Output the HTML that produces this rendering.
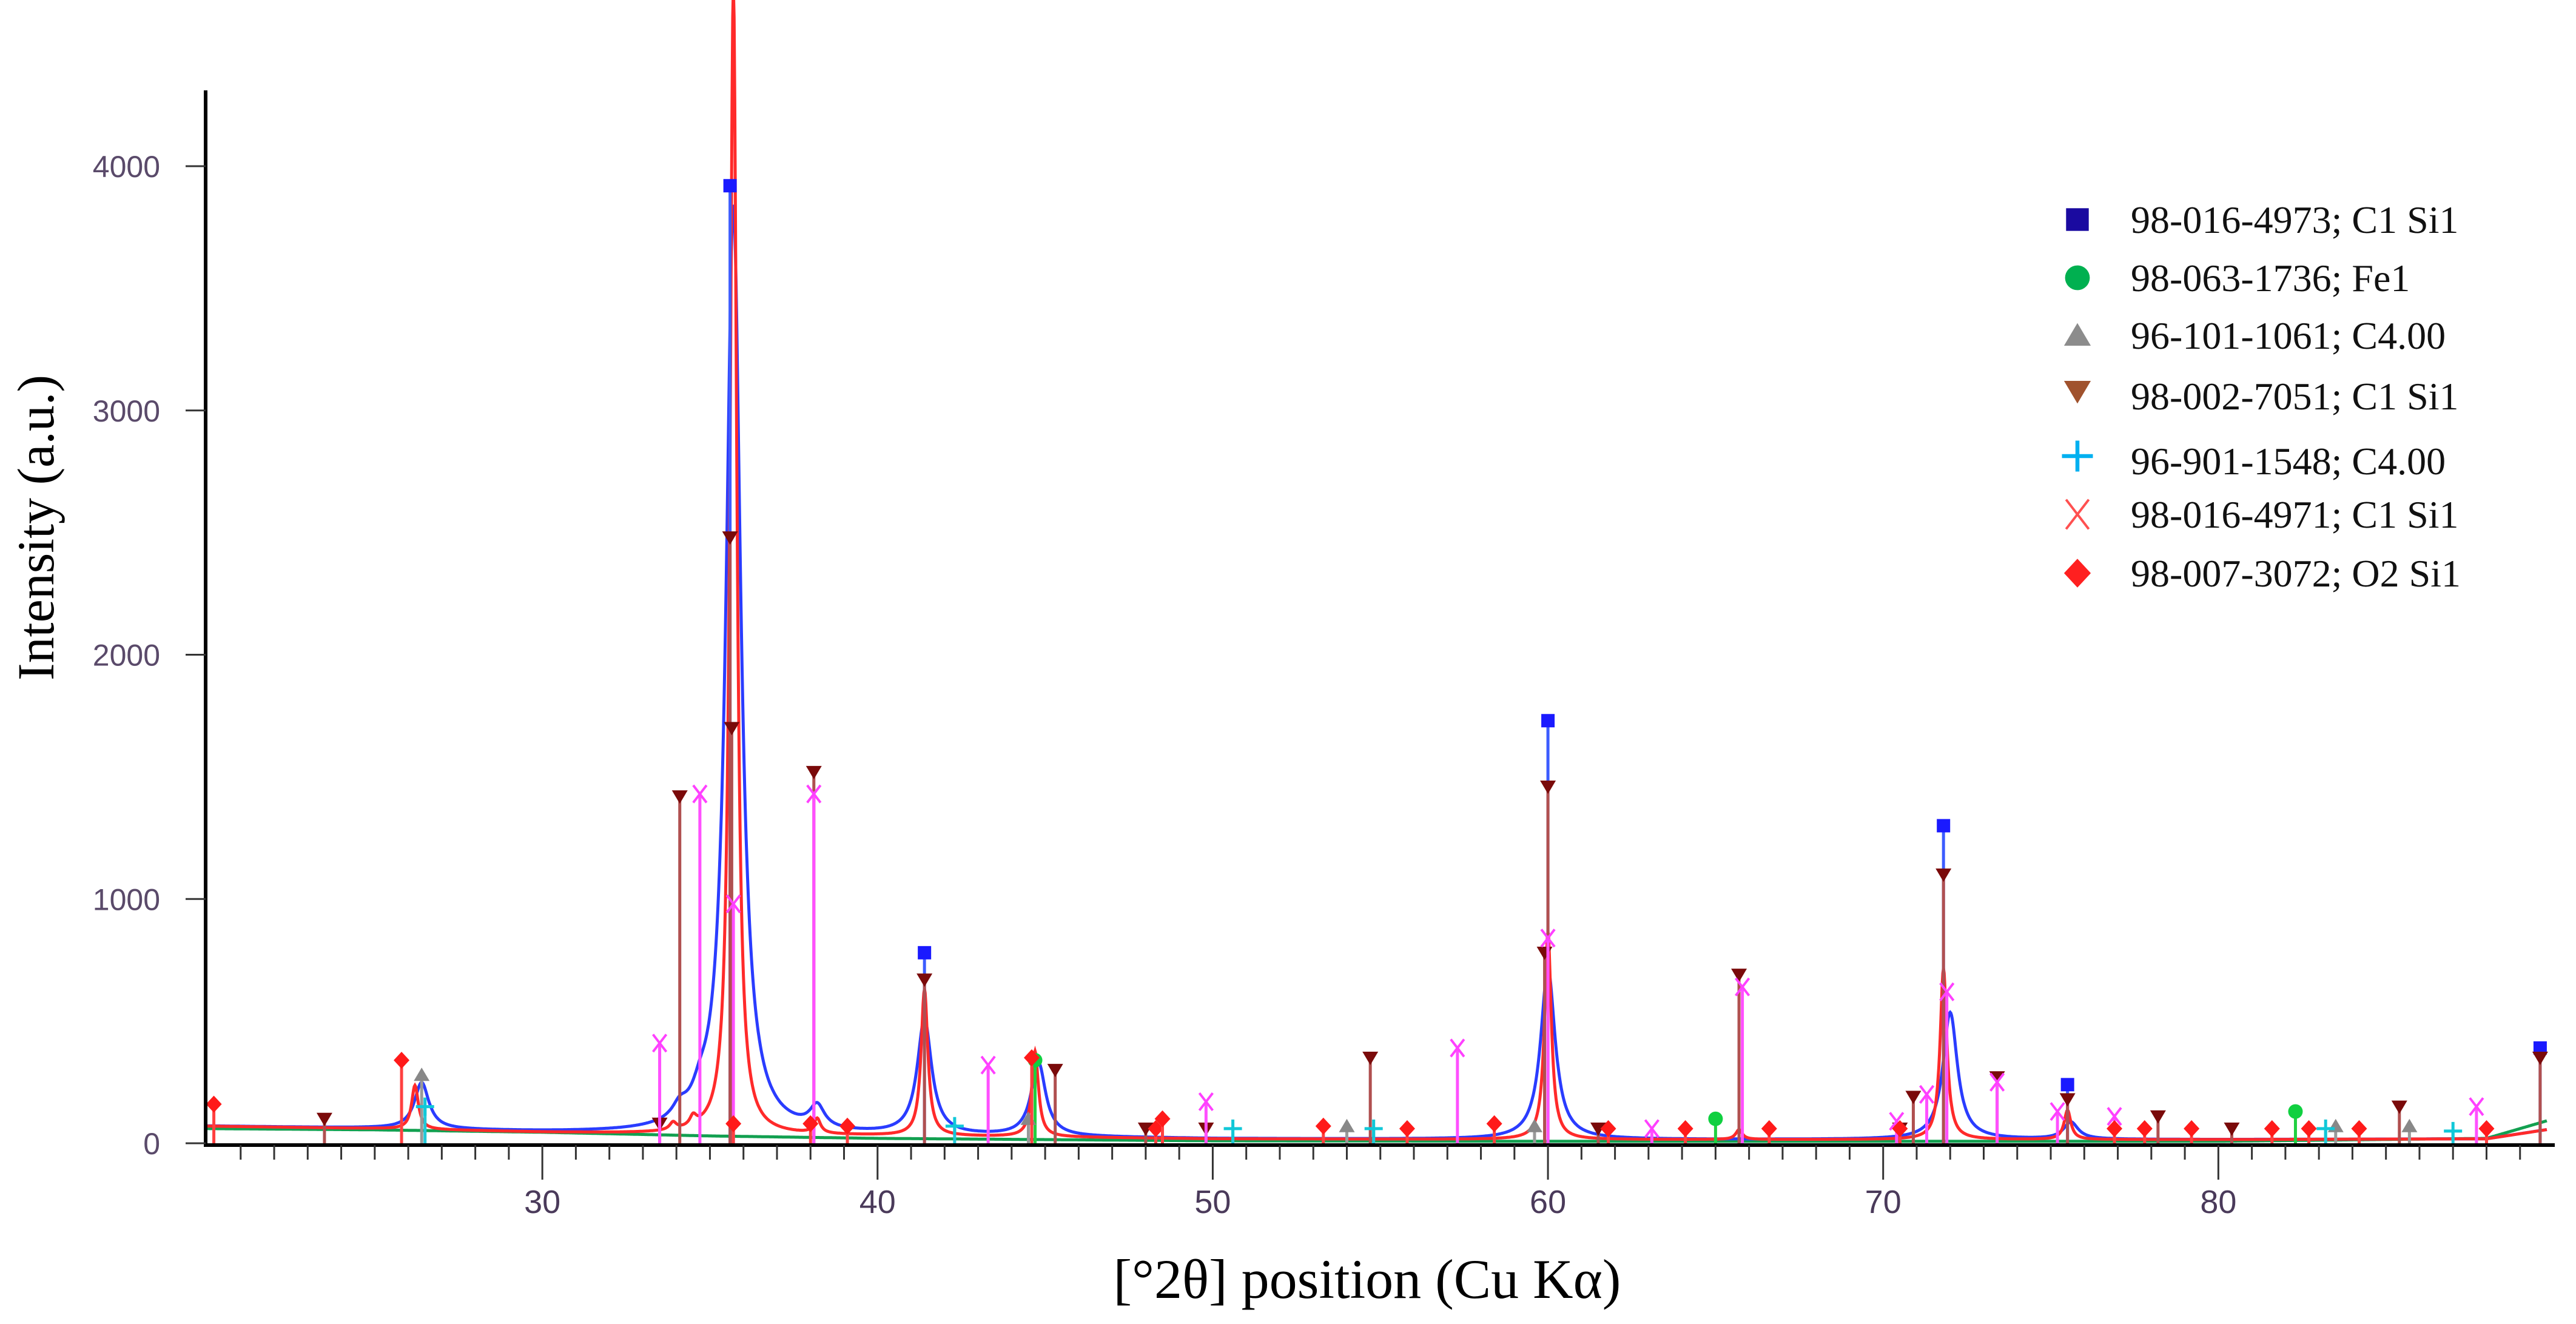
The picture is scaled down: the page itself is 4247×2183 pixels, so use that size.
<!DOCTYPE html>
<html><head><meta charset="utf-8">
<style>
html,body{margin:0;padding:0;background:#fff;}
svg{display:block;}
text{font-family:"Liberation Sans",sans-serif;}
.serif{font-family:"Liberation Serif",serif;}
</style></head>
<body>
<svg id="chart" width="4247" height="2183" viewBox="0 0 4247 2183" xmlns="http://www.w3.org/2000/svg">
<g id="plot"></g>
<line x1="339" y1="149" x2="339" y2="1888" stroke="#000" stroke-width="6"/>
<line x1="336" y1="1888" x2="4212" y2="1888" stroke="#000" stroke-width="6"/>
<g id="ticks"></g>
<text class="serif" transform="translate(88,870) rotate(-90)" text-anchor="middle" font-size="86" fill="#000">Intensity (a.u.)</text>
<text class="serif" x="2254" y="2140" text-anchor="middle" font-size="92" fill="#000">[°2θ] position (Cu Kα)</text>
<g id="legend"></g>
</svg>
<script>
// ---- data ----
const xTicks = [30,40,50,60,70,80];
const yTicks = [0,1000,2000,3000,4000];
const bgX = [20,25,30,35,40,45,50,60,70,80,88,90];
const bgRed = [70,60,45,35,30,25,18,15,15,15,18,60];
const bgGreen = [60,55,45,30,20,15,10,8,8,8,20,100];
const redPeakPos = [26.2,33.9,34.5,35.7,38.2,41.4,44.7,60.0,65.7,71.8,75.5];
const redPeakH = [180,30,40,4700,60,600,350,850,40,700,120];
const bluePeakPos = [26.4,34.1,34.7,35.7,38.2,41.4,44.8,60.0,72.0,75.6];
const bluePeakH = [190,50,60,3800,90,470,300,700,520,70];
const s1Pos=[35.6,41.4,60.0,71.8,75.5,89.6]; const s1H=[3920,780,1730,1300,240,390];
const s2Pos=[44.7,65.0,82.3]; const s2H=[340,100,130];
const s3Pos=[26.4,44.5,54.0,59.6,83.5,85.7]; const s3H=[280,100,70,70,70,70];
const s4Pos=[23.5,33.5,34.1,35.6,35.65,38.1,41.4,45.3,48.0,49.8,54.7,59.9,60.0,61.5,65.7,70.5,70.9,71.8,73.4,75.5,78.2,80.4,85.4,89.6];
const s4H=[100,80,1420,2480,1700,1520,670,300,60,60,350,780,1460,60,690,60,190,1100,270,180,110,60,150,350];
const s5Pos=[26.5,42.3,50.6,54.8,83.2,87.0]; const s5H=[150,70,60,60,60,50];
const s6Pos=[33.5,34.7,35.7,38.1,43.3,49.8,57.3,60.0,63.1,65.8,70.4,71.3,71.9,73.4,75.2,76.9,87.7];
const s6H=[410,1430,980,1430,320,170,390,840,60,640,90,200,620,250,130,110,150];
const s7Pos=[20.2,25.8,35.7,38.0,39.1,44.6,48.3,48.5,53.3,55.8,58.4,61.8,64.1,66.6,70.5,76.9,77.8,79.2,81.6,82.7,84.2,88.0];
const s7H=[160,340,80,80,70,350,60,100,70,60,80,60,60,60,60,60,60,60,60,60,60,60];
const legendLabels=["98-016-4973; C1 Si1","98-063-1736; Fe1","96-101-1061; C4.00","98-002-7051; C1 Si1","96-901-1548; C4.00","98-016-4971; C1 Si1","98-007-3072; O2 Si1"];

// ---- scales ----
const X0=20,X1=90,PX0=341.5,PX1=4210;
function sx(v){return PX0+(v-X0)*(PX1-PX0)/(X1-X0);}
function sy(v){return 1885-v*0.40275;}
const NS="http://www.w3.org/2000/svg";
function mk(tag,attrs,parent){const e=document.createElementNS(NS,tag);for(const k in attrs)e.setAttribute(k,attrs[k]);parent.appendChild(e);return e;}
const plot=document.getElementById('plot'), ticks=document.getElementById('ticks'), legend=document.getElementById('legend');

function interp(xs,ys,x){for(let i=0;i<xs.length-1;i++){if(x<=xs[i+1]){const t=(x-xs[i])/(xs[i+1]-xs[i]);return ys[i]+t*(ys[i+1]-ys[i]);}}return ys[ys.length-1];}
function profile(bg,pos,h,w){let d="";for(let x=X0;x<=89.8;x+=0.02){let v=interp(bgX,bg,x);for(let i=0;i<pos.length;i++){const u=(x-pos[i])/w;v+=h[i]/(1+u*u);}d+=(d?"L":"M")+sx(x).toFixed(1)+","+sy(v).toFixed(1);}return d;}

// continuous patterns
let p=mk('path',{d:profile(bgGreen,[],[],0.1),fill:'none',stroke:'#12a050','stroke-width':5},plot);


p=mk('path',{d:profile(bgRed,bluePeakPos,bluePeakH,0.26),fill:'none',stroke:'#2a3cff','stroke-width':5},plot);


p=mk('path',{d:profile(bgRed,redPeakPos,redPeakH,0.12),fill:'none',stroke:'#ff2a2a','stroke-width':5},plot);



// markers
function marker(type,cx,cy,col,parent,s){
  s=s||1;
  let e;
  if(type==='sq') e=mk('rect',{x:cx-11*s,y:cy-11*s,width:22*s,height:22*s,fill:col},parent);
  else if(type==='ci') e=mk('circle',{cx:cx,cy:cy,r:12*s,fill:col},parent);
  else if(type==='up') e=mk('polygon',{points:`${cx-13*s},${cy+10*s} ${cx+13*s},${cy+10*s} ${cx},${cy-12*s}`,fill:col},parent);
  else if(type==='dn') e=mk('polygon',{points:`${cx-13*s},${cy-10*s} ${cx+13*s},${cy-10*s} ${cx},${cy+12*s}`,fill:col},parent);
  else if(type==='pl') e=mk('path',{d:`M${cx-15*s},${cy}H${cx+15*s}M${cx},${cy-15*s}V${cy+15*s}`,stroke:col,'stroke-width':5*Math.sqrt(s)},parent);
  else if(type==='x') e=mk('path',{d:`M${cx-11*s},${cy-11*s*1.3}L${cx+11*s},${cy+11*s*1.3}M${cx+11*s},${cy-11*s*1.3}L${cx-11*s},${cy+11*s*1.3}`,stroke:col,'stroke-width':4},parent);
  else e=mk('polygon',{points:`${cx},${cy-14*s} ${cx+13*s},${cy} ${cx},${cy+14*s} ${cx-13*s},${cy}`,fill:col},parent);
  return e;
}
const phases=[
 {pos:s1Pos,h:s1H,type:'sq',col:'#1a1aff',line:'#3c5cff',name:'phase-98-016-4973'},
 {pos:s2Pos,h:s2H,type:'ci',col:'#10d040',line:'#20d040',name:'phase-98-063-1736'},
 {pos:s3Pos,h:s3H,type:'up',col:'#888888',line:'#999999',name:'phase-96-101-1061'},
 {pos:s4Pos,h:s4H,type:'dn',col:'#7a0a0a',line:'#b05050',name:'phase-98-002-7051'},
 {pos:s5Pos,h:s5H,type:'pl',col:'#10c8d8',line:'#20c8d8',name:'phase-96-901-1548'},
 {pos:s6Pos,h:s6H,type:'x',col:'#ff40ff',line:'#ff50ff',name:'phase-98-016-4971'},
 {pos:s7Pos,h:s7H,type:'di',col:'#ff1a1a',line:'#ff4040',name:'phase-98-007-3072'}
];
phases.forEach(ph=>{
  const g=mk('g',{},plot);
  
  
  for(let i=0;i<ph.pos.length;i++){
    const x=sx(ph.pos[i]), y=sy(ph.h[i]);
    const l=mk('line',{x1:x,y1:1885,x2:x,y2:y,stroke:ph.line,'stroke-width':5},g);
    
    
    const m=marker(ph.type,x,y,ph.col,g,1);
    
    
  }
});

// ticks
for(let v=21;v<=89;v++){
  const major=xTicks.includes(v);
  const t=mk('line',{x1:sx(v),y1:1888,x2:sx(v),y2:major?1945:1912,stroke:'#333','stroke-width':3},ticks);
  
  
}
xTicks.forEach(v=>{
  const t=mk('text',{x:sx(v),y:2000,'text-anchor':'middle','font-size':54,fill:'#4a3a5a'},ticks);
  t.textContent=v;
  
  
});
yTicks.forEach(v=>{
  const l=mk('line',{x1:306,y1:sy(v),x2:339,y2:sy(v),stroke:'#333','stroke-width':3},ticks);
  
  
  const t=mk('text',{x:264,y:sy(v)+18,'text-anchor':'end','font-size':50,fill:'#5a4a6a'},ticks);
  t.textContent=v;
  
  
});

// legend
const legCols=['#1a0aa0','#00b050','#8c8c8c','#a0522d','#00b0f0','#ff5050','#ff2020'];
const legTypes=['sq','ci','up','dn','pl','x','di'];
const legY=[362,458,553,645,752,848,945];
legendLabels.forEach((lab,i)=>{
  const g=mk('g',{},legend);
  
  
  const m=marker(legTypes[i],3425,legY[i],legCols[i],g,1.7);
  
  
  const ty=legY[i]+ (i===3||i===4?30:22);
  const t=mk('text',{x:3513,y:ty,'font-size':64,fill:'#111',class:'serif'},g);
  t.textContent=lab;
  
  
});
</script>
</body></html>
